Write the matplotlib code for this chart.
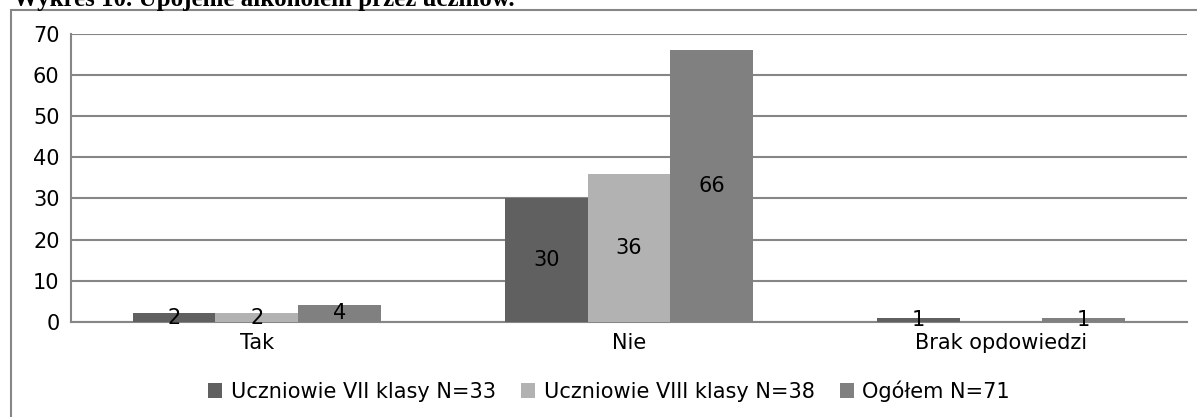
import matplotlib.pyplot as plt
from matplotlib.patches import Rectangle
import numpy as np

categories = ['Tak', 'Nie', 'Brak opdowiedzi']
series = ['Uczniowie VII klasy N=33', 'Uczniowie VIII klasy N=38', 'Ogółem N=71']
vii = [2, 30, 1]
viii = [2, 36, 0]
total = [4, 66, 1]
colors = ['#606060', '#b2b2b2', '#808080']
grid_col = '#868686'

plt.rcParams['font.family'] = 'DejaVu Sans'

fig = plt.figure(figsize=(11.97, 4.17), dpi=100)
W, H = 1197, 417
ax = fig.add_axes([70.7 / W, 1 - 321.7 / H, (1187 - 70.7) / W, (321.7 - 34) / H])

x = np.arange(len(categories))
w = 1 / 4.5
for i, (vals, col) in enumerate(zip([vii, viii, total], colors)):
    pos = x + (i - 1) * w
    keep = [j for j, v in enumerate(vals) if v > 0]
    ax.bar(pos[keep], [vals[j] for j in keep], width=w, color=col,
           label=series[i], zorder=3)
    for j in keep:
        ax.text(pos[j], vals[j] / 2, str(vals[j]), ha='center', va='center',
                fontsize=15, color='black', zorder=4)

ax.set_xlim(-0.5, 2.5)
ax.set_ylim(0, 70)
ax.set_yticks(range(0, 71, 10))
ax.set_xticks(x)
ax.set_xticklabels(categories)
ax.tick_params(axis='both', length=0, labelsize=15, colors='black')
ax.tick_params(axis='y', pad=8)
ax.tick_params(axis='x', pad=8)
ax.yaxis.grid(True, color=grid_col, linewidth=1.5)
ax.set_axisbelow(True)
for s in ['top', 'right']:
    ax.spines[s].set_visible(False)
for s in ['left', 'bottom']:
    ax.spines[s].set_color(grid_col)
    ax.spines[s].set_linewidth(1.5)

fig.legend(loc='center', bbox_to_anchor=(609 / W, 1 - 391 / H), ncol=3,
           frameon=False, fontsize=15, handlelength=0.7, handleheight=0.7,
           handletextpad=0.4, columnspacing=1.2)

# outer chart frame
fig.patches.append(Rectangle((11 / W, -0.2), 1.0, 1 - 10 / H + 0.2,
                             transform=fig.transFigure, fill=False,
                             edgecolor=grid_col, linewidth=1.5))

# title sits mostly above the visible area, as in the source scan
fig.text(13 / W, 1 - 6 / H, 'Wykres 10. Upojenie alkoholem przez uczniów.',
         fontfamily='Liberation Serif', fontweight='bold', fontsize=18,
         ha='left', va='baseline')

fig.savefig('out.png', dpi=100)
